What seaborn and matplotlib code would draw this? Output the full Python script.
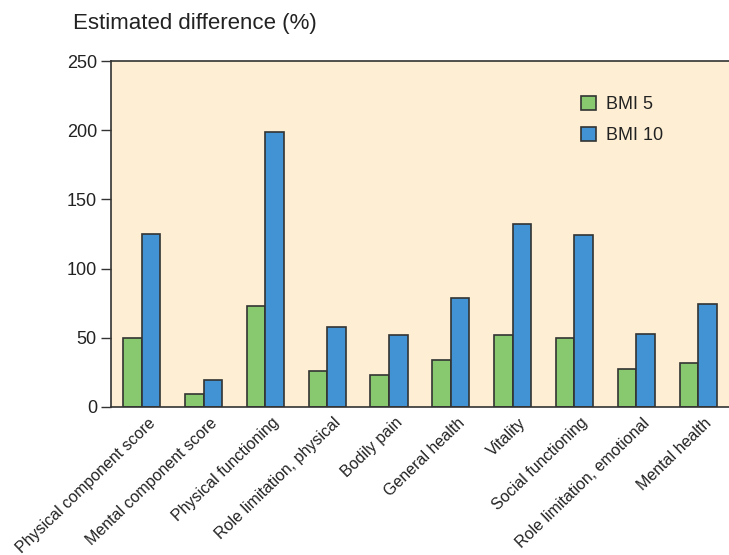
import pandas as pd
import matplotlib.pyplot as plt
import matplotlib.transforms as mtransforms
import seaborn as sns

categories = [
    "Physical component score",
    "Mental component score",
    "Physical functioning",
    "Role limitation, physical",
    "Bodily pain",
    "General health",
    "Vitality",
    "Social functioning",
    "Role limitation, emotional",
    "Mental health",
]
bmi5 = [50, 9.5, 73, 26, 23, 34, 52, 50, 27.5, 32]
bmi10 = [125, 19.5, 199, 58, 52, 79, 132, 124, 53, 74]
y_ticks = [0, 50, 100, 150, 200, 250]

df = pd.DataFrame({
    "category": categories * 2,
    "value": bmi5 + bmi10,
    "group": ["BMI 5"] * len(bmi5) + ["BMI 10"] * len(bmi10),
})

sns.set_style("white")
plt.rcParams["font.family"] = ["Liberation Sans", "DejaVu Sans"]

fig = plt.figure(figsize=(7.29, 5.55), dpi=100)
ax = fig.add_axes([0.152, 0.267, 0.848, 0.623])
ax.set_facecolor("#FEEFD4")

sns.barplot(
    data=df,
    x="category",
    y="value",
    hue="group",
    palette={"BMI 5": "#88C970", "BMI 10": "#4193D3"},
    saturation=1,
    width=0.6,
    edgecolor="#333333",
    linewidth=1.2,
    ax=ax,
)

ax.set_xlim(-0.5, len(categories) - 0.5)
ax.set_ylim(0, 250)
ax.set_yticks(y_ticks)
ax.set_xlabel("")
ax.set_ylabel("")
ax.tick_params(axis="y", direction="out", length=7, width=1, color="#333333",
               labelsize=13, pad=3, left=True, labelcolor="#222222")
ax.tick_params(axis="x", length=0, labelsize=11.5, labelcolor="#222222", pad=6)
offset = mtransforms.ScaledTranslation(0.06, 0, fig.dpi_scale_trans)
for lbl in ax.get_xticklabels():
    lbl.set_rotation(44)
    lbl.set_ha("right")
    lbl.set_rotation_mode("anchor")
    lbl.set_transform(lbl.get_transform() + offset)

for side in ["left", "bottom", "top"]:
    ax.spines[side].set_color("#333333")
    ax.spines[side].set_linewidth(1.2)
ax.spines["right"].set_visible(False)

leg = ax.legend(loc="upper left", bbox_to_anchor=(0.735, 0.945), frameon=False,
                fontsize=13, handlelength=0.8, handleheight=0.8,
                labelspacing=0.75, handletextpad=0.55)
for t in leg.get_texts():
    t.set_color("#222222")

fig.text(0.1, 0.958, "Estimated difference (%)", fontsize=16, va="center",
         ha="left", color="#222222")

fig.savefig("out.png", dpi=100)
